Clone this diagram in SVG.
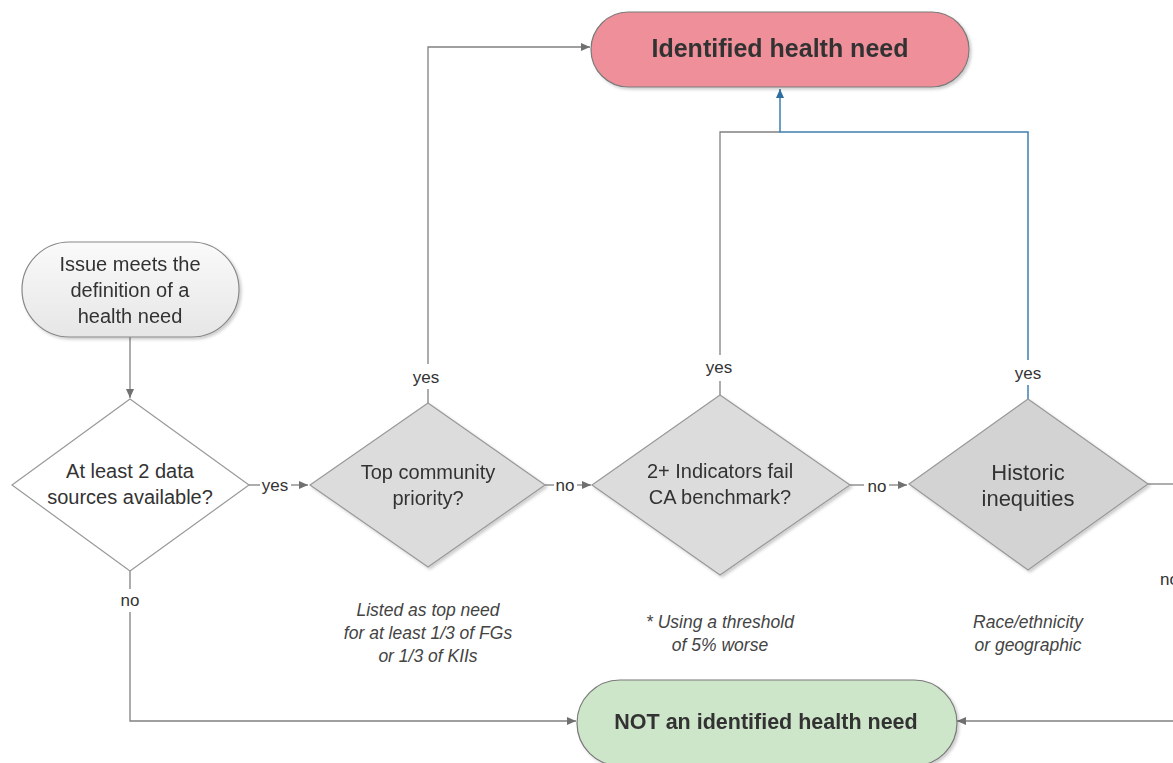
<svg xmlns="http://www.w3.org/2000/svg" width="1173" height="763" viewBox="0 0 1173 763">
<style>
.lbl{font-family:"Liberation Sans",Arial,sans-serif;fill:#333;text-anchor:middle}
.node{font-size:20px}
.edge{font-size:17px}
.note{font-size:17.5px;font-style:italic;fill:#444}
.ln{fill:none;stroke:#808080;stroke-width:1.3}
.blue{fill:none;stroke:#3f7fae;stroke-width:1.5}
.dia{stroke:#999;stroke-width:1.2}
</style>
<defs>
<marker id="ag" markerWidth="10" markerHeight="10" refX="9" refY="5" orient="auto" markerUnits="userSpaceOnUse"><path d="M0,1 L9,5 L0,9 Z" fill="#707070"/></marker>
<marker id="ab" markerWidth="10" markerHeight="10" refX="9" refY="5" orient="auto" markerUnits="userSpaceOnUse"><path d="M0,1 L9,5 L0,9 Z" fill="#2f6fa0"/></marker>
<linearGradient id="gs" x1="0" y1="0" x2="0" y2="1"><stop offset="0" stop-color="#fafafa"/><stop offset="1" stop-color="#e6e6e6"/></linearGradient>
<filter id="sh" x="-10%" y="-10%" width="125%" height="130%"><feDropShadow dx="2" dy="2" stdDeviation="1.5" flood-color="#000" flood-opacity="0.2"/></filter>
</defs>
<rect width="1173" height="763" fill="#fff"/>

<g id="connectors">
<path class="ln" d="M130,337 V398" marker-end="url(#ag)"/>
<path class="ln" d="M249,485 H260"/><path class="ln" d="M291,485 H308" marker-end="url(#ag)"/>
<path class="ln" d="M545,485 H554"/><path class="ln" d="M577,485 H591" marker-end="url(#ag)"/>
<path class="ln" d="M850,485 H864"/><path class="ln" d="M889,485 H907" marker-end="url(#ag)"/>
<path class="ln" d="M1148,484 H1173"/>
<path class="ln" d="M428,403 V389"/><path class="ln" d="M428,364 V47 H590" marker-end="url(#ag)"/>
<path class="ln" d="M720,395 V381"/><path class="ln" d="M720,355 V132 H780"/>
<path class="blue" d="M1028,399 V385"/><path class="blue" d="M1028,360 V132 H780 V89" marker-end="url(#ab)"/>
<path class="ln" d="M130,571 V589"/><path class="ln" d="M130,612 V721 H576" marker-end="url(#ag)"/>
<path class="ln" d="M1173,721 H957" marker-end="url(#ag)"/>
<text class="lbl edge" x="275" y="491">yes</text>
<text class="lbl edge" x="565" y="491">no</text>
<text class="lbl edge" x="877" y="492">no</text>
<text class="lbl edge" x="426" y="383">yes</text>
<text class="lbl edge" x="719" y="373">yes</text>
<text class="lbl edge" x="1028" y="379">yes</text>
<text class="lbl edge" x="130" y="606">no</text>
<text class="lbl edge" x="1160" y="585" style="text-anchor:start">no</text>
</g>

<g id="n-identified" filter="url(#sh)">
<rect x="591" y="12" width="378" height="75" rx="37.5" fill="#ef8f99" stroke="#7a7a7a" stroke-width="1.2"/>
<text class="lbl" x="780" y="57" font-size="25" font-weight="bold">Identified health need</text>
</g>

<g id="n-start" filter="url(#sh)">
<rect x="22" y="242" width="217" height="95" rx="47.5" fill="url(#gs)" stroke="#888" stroke-width="1.2"/>
<text class="lbl node" x="130" y="271">Issue meets the</text>
<text class="lbl node" x="130" y="297">definition of a</text>
<text class="lbl node" x="130" y="323">health need</text>
</g>

<g id="n-datasources">
<polygon class="dia" points="130,399 249,485 130,571 12,485" fill="#fff" stroke="#888"/>
<text class="lbl node" x="130" y="478">At least 2 data</text>
<text class="lbl node" x="130" y="504">sources available?</text>
</g>

<g id="n-community" filter="url(#sh)">
<polygon class="dia" points="428,403 545,485 428,567 310,485" fill="#dcdcdc"/>
<text class="lbl node" x="428" y="479">Top community</text>
<text class="lbl node" x="428" y="505">priority?</text>
</g>
<text class="lbl note" x="428" y="616">Listed as top need</text>
<text class="lbl note" x="428" y="639">for at least 1/3 of FGs</text>
<text class="lbl note" x="428" y="662">or 1/3 of KIIs</text>

<g id="n-indicators" filter="url(#sh)">
<polygon class="dia" points="720,395 850,485 720,575 592,485" fill="#dcdcdc"/>
<text class="lbl node" x="720" y="478">2+ Indicators fail</text>
<text class="lbl node" x="720" y="504">CA benchmark?</text>
</g>
<text class="lbl note" x="720" y="628">* Using a threshold</text>
<text class="lbl note" x="720" y="651">of 5% worse</text>

<g id="n-historic" filter="url(#sh)">
<polygon class="dia" points="1028,399 1148,484 1028,570 909,484" fill="#d3d3d3"/>
<text class="lbl" x="1028" y="480" font-size="22">Historic</text>
<text class="lbl" x="1028" y="506" font-size="22">inequities</text>
</g>
<text class="lbl note" x="1028" y="628">Race/ethnicity</text>
<text class="lbl note" x="1028" y="651">or geographic</text>

<g id="n-not" filter="url(#sh)">
<rect x="577" y="680" width="380" height="86" rx="43" fill="#cde5c8" stroke="#7a7a7a" stroke-width="1.2"/>
<text class="lbl" x="766" y="729" font-size="21.5" font-weight="bold">NOT an identified health need</text>
</g>
</svg>
